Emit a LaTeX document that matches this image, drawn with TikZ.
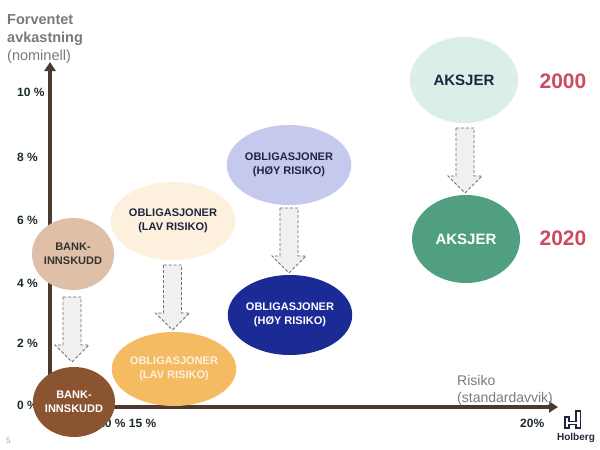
\documentclass[tikz,border=0pt]{standalone}
\usepackage{fontspec}
\setmainfont{Liberation Sans}
\usetikzlibrary{shapes.geometric,arrows.meta}
\definecolor{axiscol}{HTML}{4A3A30}
\definecolor{labcol}{HTML}{1D2A30}
\definecolor{graytxt}{HTML}{7A7A7A}
\definecolor{mint}{HTML}{DCEEE8}
\definecolor{green2}{HTML}{4F9F80}
\definecolor{lavender}{HTML}{C6C9EE}
\definecolor{navy}{HTML}{1C2A96}
\definecolor{cream}{HTML}{FDF0DD}
\definecolor{orange2}{HTML}{F4BB62}
\definecolor{tan2}{HTML}{DFBFA8}
\definecolor{brown2}{HTML}{8B5431}
\definecolor{redtxt}{HTML}{CC4A62}
\definecolor{darktxt}{HTML}{1F2540}
\definecolor{arrfill}{HTML}{F0F0F0}
\definecolor{arrline}{HTML}{707070}
\tikzset{
  axisline/.style={draw=axiscol,line width=3.5pt,-{Triangle[width=11pt,length=9pt]}},
  ticklab/.style={anchor=base west,inner sep=0,text=labcol,font=\fontsize{12}{14}\selectfont\bfseries},
  titlelab/.style={anchor=base west,inner sep=0,text=graytxt,font=\fontsize{14.5}{17}\selectfont},
  blob/.style={ellipse,inner sep=0,draw=none,align=center,font=\fontsize{11}{14}\selectfont\bfseries},
  bigblob/.style={ellipse,inner sep=0,draw=none,align=center,font=\fontsize{15}{18}\selectfont\bfseries},
  yearlab/.style={inner sep=0,text=redtxt,font=\fontsize{21}{24}\selectfont\bfseries},
  blockarrow/.style={draw=arrline,fill=arrfill,line width=0.8pt,dash pattern=on 3pt off 2pt},
}
% x, top y, tip y
\newcommand\blockarr[3]{%
  \draw[blockarrow] ({#1-9},#2) -- ({#1+9},#2) -- ({#1+9},{#3-17}) -- ({#1+17},{#3-17})
    -- (#1,#3) -- ({#1-17},{#3-17}) -- ({#1-9},{#3-17}) -- cycle;}
\begin{document}
\begin{tikzpicture}[x=1pt,y=-1pt]
\useasboundingbox[fill=white] (0,0) rectangle (600,450);

% title
\node[titlelab,font=\fontsize{14.5}{17}\selectfont\bfseries] (t1) at (7,24) {Forventet};
\node[titlelab,font=\fontsize{14.5}{17}\selectfont\bfseries] (t2) at (7,42) {avkastning};
\node[titlelab] (t3) at (7,60) {(nominell)};

% axes
\coordinate (O) at (50,407);
\coordinate (Ox) at (48,407);
\coordinate (ytop) at (50,62);
\coordinate (xend) at (558,407);
\draw[axisline] (O) -- (ytop);
\draw[axisline] (Ox) -- (xend);

% tick labels
\node[ticklab] (y10) at (17,96.3) {10 \%};
\node[ticklab] (y8) at (17,161.3) {8 \%};
\node[ticklab] (y6) at (17,224.3) {6 \%};
\node[ticklab] (y4) at (17,287.3) {4 \%};
\node[ticklab] (y2) at (17,347.3) {2 \%};
\node[ticklab] (y0) at (17,409.3) {0 \%};
\node[ticklab] (x1015) at (98,427.3) {10 \% 15 \%};
\node[ticklab] (x20) at (520,427.3) {20\%};

\node[titlelab,font=\fontsize{14}{16}\selectfont] (r1) at (457,385) {Risiko};
\node[titlelab,font=\fontsize{14}{16}\selectfont] (r2) at (457,402) {(standardavvik)};

\node[anchor=base west,inner sep=0,text=graytxt!70,font=\fontsize{8}{9}\selectfont] (pg) at (6,443) {5};

% ellipses
\node[bigblob,fill=mint,text=darktxt,minimum width=108,minimum height=86] (ak1) at (464,80) {AKSJER};
\node[bigblob,fill=green2,text=white,minimum width=108,minimum height=88] (ak2) at (466,239) {AKSJER};
\node[yearlab] (y2000) at (563,81) {2000};
\node[yearlab] (y2020) at (563,238) {2020};

\node[blob,fill=lavender,text=darktxt,minimum width=100,minimum height=80] (oh1) at (289,165) {OBLIGASJONER\\(HØY RISIKO)};
\node[blob,fill=navy,text=white,minimum width=96,minimum height=80] (oh2) at (290,315) {OBLIGASJONER\\(HØY RISIKO)};

\node[blob,fill=cream,text=darktxt,minimum width=96,minimum height=78] (ol1) at (173,221) {OBLIGASJONER\\(LAV RISIKO)};
\node[blob,fill=orange2,text=cream,minimum width=96,minimum height=74] (ol2) at (174,369) {OBLIGASJONER\\(LAV RISIKO)};

\node[blob,fill=tan2,text=labcol!80!brown2,minimum width=70,minimum height=72] (b1) at (73,254) {BANK-\\INNSKUDD};
\node[blob,fill=brown2,text=white,minimum width=72,minimum height=70] (b2) at (74,402) {BANK-\\INNSKUDD};

% block arrows
\blockarr{465}{128}{193}
\blockarr{289}{208}{273}
\blockarr{172.5}{265}{330}
\blockarr{72}{297}{362}

% logo
\draw[darktxt,line width=1.3pt,line join=miter] (565,428) -- (565,417) -- (569,417) -- (569,421.5) -- (576,421.5) -- (576,411) -- (580.5,411) -- (580.5,428) -- (576,428) -- (576,424.5) -- (569,424.5) -- (569,428) -- cycle;
\node[inner sep=0,text=darktxt,font=\fontsize{10}{12}\selectfont\bfseries] (logo) at (576,438) {Holberg};
\end{tikzpicture}
\end{document}
